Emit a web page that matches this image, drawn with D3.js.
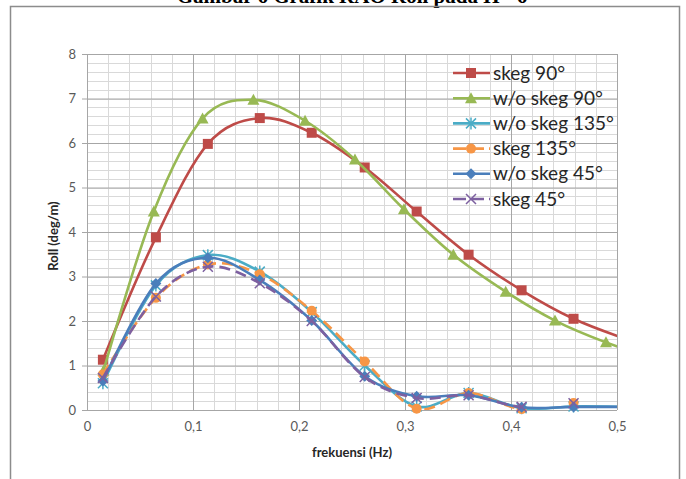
<!DOCTYPE html>
<html>
<head>
<meta charset="utf-8">
<script src="https://cdn.jsdelivr.net/npm/d3@7"></script>
<style>
  body { margin: 0; background: #fff; }
  svg { display: block; }
  .tick text { font-family: Lato, "Open Sans", sans-serif; font-size: 13px; fill: #595959; }
</style>
</head>
<body>
<div id="viz"></div>
<script>
// frequencies (Hz) - the "w/o skeg 90" run sits on slightly different points
var freqSkeg = [0.015, 0.065, 0.114, 0.163, 0.212, 0.262, 0.311, 0.360, 0.410, 0.459, 0.508];
var freqNoSkeg90 = [0.0155, 0.063, 0.109, 0.157, 0.2057, 0.2528, 0.299, 0.3456, 0.395, 0.4415, 0.4896, 0.537];

// roll RAO (deg/m)
var skeg90 = [1.13, 3.88, 5.98, 6.56, 6.23, 5.45, 4.46, 3.49, 2.69, 2.05, 1.6];
var noSkeg90 = [0.88, 4.46, 6.55, 6.97, 6.5, 5.63, 4.51, 3.49, 2.66, 2.01, 1.52, 1.15];
var noSkeg135 = [0.6, 2.8, 3.48, 3.11, 2.2, 1.0, 0.08, 0.38, 0.04, 0.08, 0.07];
var skeg135 = [0.8, 2.52, 3.27, 3.05, 2.23, 1.09, 0.03, 0.38, 0.02, 0.16];
var noSkeg45 = [0.65, 2.84, 3.42, 2.92, 2.01, 0.76, 0.31, 0.33, 0.06, 0.07, 0.07];
var skeg45 = [0.72, 2.55, 3.22, 2.85, 2.0, 0.74, 0.27, 0.33, 0.07, 0.15];

var yTicks = [0, 1, 2, 3, 4, 5, 6, 7, 8];
var xTicks = [0, 0.1, 0.2, 0.3, 0.4, 0.5];

var series = [
  {name: "skeg 90°", x: freqSkeg, y: skeg90, color: "#be4b48", marker: "square", dash: null},
  {name: "w/o skeg 90°", x: freqNoSkeg90, y: noSkeg90, color: "#98b954", marker: "triangle", dash: null},
  {name: "w/o skeg 135°", x: freqSkeg, y: noSkeg135, color: "#4bacc6", marker: "star", dash: null},
  {name: "skeg 135°", x: freqSkeg, y: skeg135, color: "#f79646", marker: "circle", dash: "11,6"},
  {name: "w/o skeg 45°", x: freqSkeg, y: noSkeg45, color: "#4a7ebb", marker: "diamond", dash: null},
  {name: "skeg 45°", x: freqSkeg, y: skeg45, color: "#7d60a0", marker: "cross", dash: "11,6"}
];

var w = 686, h = 479;
var plot = {left: 87, right: 617, top: 54, bottom: 410};

var xScale = d3.scaleLinear().domain([0, 0.5]).range([plot.left, plot.right]);
var yScale = d3.scaleLinear().domain([0, 8]).range([plot.bottom, plot.top]);
var fmt = function(d) { return d === 0 ? "0" : d3.format(".1f")(d).replace(".", ","); };

var svg = d3.select("#viz").append("svg")
  .attr("width", w)
  .attr("height", h);

// caption cut off at the top of the page
svg.append("text")
  .attr("x", 352).attr("y", 3)
  .attr("text-anchor", "middle")
  .style("font-family", "'Liberation Serif', serif")
  .style("font-weight", "bold")
  .style("font-size", "21px")
  .text("Gambar 6 Grafik RAO Roll pada H= 6");

// outer chart frame
svg.append("path")
  .attr("d", "M10.5," + (h + 2) + "V6.5H679.5V" + (h + 2))
  .attr("fill", "none")
  .attr("stroke", "#8c8c8c")
  .attr("stroke-width", 1.5);

// minor grid
svg.append("g")
  .selectAll("line.vx")
  .data(d3.range(1, 25).map(function(i) { return i * 0.02; }))
  .enter().append("line")
  .attr("x1", function(d) { return Math.round(xScale(d)) + 0.5; })
  .attr("x2", function(d) { return Math.round(xScale(d)) + 0.5; })
  .attr("y1", plot.top).attr("y2", plot.bottom)
  .attr("stroke", "#d9d9d9");

svg.append("g")
  .selectAll("line.hy")
  .data(d3.range(1, 40).map(function(i) { return i * 0.2; }))
  .enter().append("line")
  .attr("x1", plot.left).attr("x2", plot.right)
  .attr("y1", function(d) { return Math.round(yScale(d)) + 0.5; })
  .attr("y2", function(d) { return Math.round(yScale(d)) + 0.5; })
  .attr("stroke", "#d9d9d9");

// major grid + axes
var yAxis = d3.axisLeft(yScale).tickValues(yTicks).tickSize(5).tickPadding(6).tickFormat(d3.format("d"));
var gy = svg.append("g").attr("transform", "translate(" + plot.left + ",0)").call(yAxis);
gy.selectAll(".tick line").attr("stroke", "#a6a6a6");
gy.select(".domain").attr("stroke", "#a6a6a6").attr("d", "M0.5," + plot.top + "V" + plot.bottom);
gy.selectAll(".tick").append("line")
  .attr("x1", 0).attr("x2", plot.right - plot.left)
  .attr("stroke", "#a6a6a6");

var xAxis = d3.axisBottom(xScale).tickValues(xTicks).tickSize(0).tickPadding(12).tickFormat(fmt);
var gx = svg.append("g").attr("transform", "translate(0," + plot.bottom + ")").call(xAxis);
gx.select(".domain").attr("stroke", "#a6a6a6").attr("d", "M" + plot.left + ",0.5H" + plot.right);
gx.selectAll(".tick").append("line")
  .attr("y1", 0).attr("y2", plot.top - plot.bottom)
  .attr("stroke", "#a6a6a6");

// axis titles
svg.append("text")
  .attr("transform", "translate(58," + ((plot.top + plot.bottom) / 2 + 4) + ") rotate(-90)")
  .attr("text-anchor", "middle")
  .style("font-family", "Lato, 'Open Sans', sans-serif")
  .style("font-weight", "bold")
  .style("font-size", "13px")
  .style("fill", "#262626")
  .text("Roll (deg/m)");

svg.append("text")
  .attr("x", (plot.left + plot.right) / 2).attr("y", 457)
  .attr("text-anchor", "middle")
  .style("font-family", "Lato, 'Open Sans', sans-serif")
  .style("font-weight", "bold")
  .style("font-size", "13px")
  .style("fill", "#262626")
  .text("frekuensi (Hz)");

svg.append("clipPath").attr("id", "clip")
  .append("rect")
  .attr("x", plot.left).attr("y", plot.top - 10)
  .attr("width", plot.right - plot.left).attr("height", plot.bottom - plot.top + 10);

var line = d3.line()
  .x(function(d) { return xScale(d[0]); })
  .y(function(d) { return yScale(d[1]); })
  .curve(d3.curveCatmullRom.alpha(0));

function drawMarker(g, type, color) {
  if (type === "square") {
    g.append("rect").attr("x", -5).attr("y", -5).attr("width", 10).attr("height", 10).attr("fill", color);
  } else if (type === "triangle") {
    g.append("path").attr("d", "M0,-6L6,5H-6Z").attr("fill", color);
  } else if (type === "circle") {
    g.append("circle").attr("r", 5).attr("fill", color);
  } else if (type === "diamond") {
    g.append("path").attr("d", "M0,-5.5L5.5,0L0,5.5L-5.5,0Z").attr("fill", color);
  } else if (type === "star") {
    g.append("path").attr("d", "M-5,-5L5,5M-5,5L5,-5M0,-6V6").attr("stroke", color).attr("stroke-width", 1.5);
  } else if (type === "cross") {
    g.append("path").attr("d", "M-5,-5L5,5M-5,5L5,-5").attr("stroke", color).attr("stroke-width", 1.5);
  }
}

var chart = svg.append("g");
series.forEach(function(s) {
  var pts = s.x.map(function(x, i) { return [x, s.y[i]]; });
  chart.append("path")
    .attr("clip-path", "url(#clip)")
    .attr("d", line(pts))
    .attr("fill", "none")
    .attr("stroke", s.color)
    .attr("stroke-width", 2.6)
    .attr("stroke-dasharray", s.dash);
  pts.filter(function(p) { return p[0] <= 0.5; }).forEach(function(p) {
    var g = chart.append("g").attr("transform", "translate(" + xScale(p[0]) + "," + yScale(p[1]) + ")");
    drawMarker(g, s.marker, s.color);
  });
});

// legend
var legend = svg.append("g").attr("transform", "translate(453,73)");
series.forEach(function(s, i) {
  var row = legend.append("g").attr("transform", "translate(0," + (i * 25.2) + ")");
  row.append("line")
    .attr("x1", 0).attr("x2", 37)
    .attr("stroke", s.color)
    .attr("stroke-width", 2.6)
    .attr("stroke-dasharray", s.dash ? "13,5" : null);
  var m = row.append("g").attr("transform", "translate(18,0)");
  drawMarker(m, s.marker, s.color);
  row.append("text")
    .attr("x", 40).attr("y", 6.5)
    .style("font-family", "Lato, 'Open Sans', sans-serif")
    .style("font-size", "19px")
    .style("fill", "#262626")
    .text(s.name);
});
</script>
</body>
</html>
